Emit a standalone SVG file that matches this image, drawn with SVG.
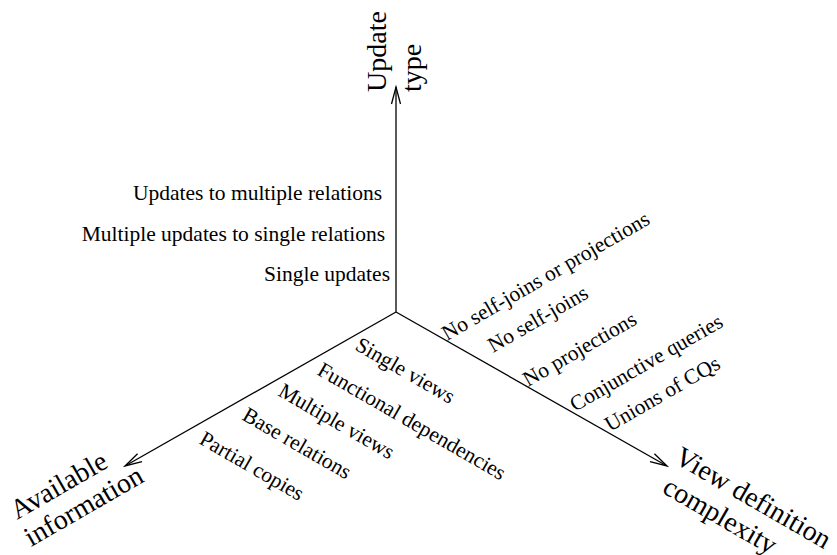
<svg xmlns="http://www.w3.org/2000/svg" width="837" height="555" viewBox="0 0 837 555">
<defs>
<marker id="arr" markerUnits="userSpaceOnUse" markerWidth="40" markerHeight="20" viewBox="-20 -10 40 20" refX="0" refY="0" orient="auto">
<path d="M-17,-4.5 L0,0 L-17,4.5" fill="none" stroke="#000" stroke-width="1.3"/>
</marker>
<style>
.ax{stroke:#000;stroke-width:1.3;fill:none;marker-end:url(#arr)}
.lb{font-family:"Liberation Serif","Times New Roman",serif;font-size:21.5px;fill:#000}
.tt{font-family:"Liberation Serif","Times New Roman",serif;font-size:28px;fill:#000}
</style>
</defs>
<rect width="837" height="555" fill="#fff"/>
<g id="connectors">
<line class="ax" x1="396" y1="312" x2="396" y2="87"/>
<line class="ax" x1="396" y1="312" x2="125" y2="466"/>
<line class="ax" x1="396" y1="312" x2="667" y2="466"/>
</g>
<g id="axis-update-type">
<text class="tt" transform="translate(386,92) rotate(-90)">Update</text>
<text class="tt" transform="translate(421,92) rotate(-90)">type</text>
</g>
<g id="axis-available-information">
<text class="tt" transform="translate(17,520) rotate(-30)">Available</text>
<text class="tt" transform="translate(31,547) rotate(-30)">information</text>
</g>
<g id="axis-view-definition">
<text class="tt" transform="translate(673,462) rotate(30)">View definition</text>
<text class="tt" transform="translate(661,492) rotate(30)">complexity</text>
</g>
<g id="update-labels" class="lb" text-anchor="end">
<text x="382" y="200">Updates to multiple relations</text>
<text x="385" y="241">Multiple updates to single relations</text>
<text x="390" y="281">Single updates</text>
</g>
<g id="view-labels" class="lb">
<text transform="translate(447,341) rotate(-30)">No self-joins or projections</text>
<text transform="translate(493,353) rotate(-30)">No self-joins</text>
<text transform="translate(528,387) rotate(-30)">No projections</text>
<text transform="translate(575,412) rotate(-30)">Conjunctive queries</text>
<text transform="translate(610,432) rotate(-30)">Unions of CQs</text>
</g>
<g id="info-labels" class="lb">
<text transform="translate(354,349) rotate(30)">Single views</text>
<text transform="translate(316,374) rotate(30)">Functional dependencies</text>
<text transform="translate(277,395) rotate(30)">Multiple views</text>
<text transform="translate(241,419) rotate(30)">Base relations</text>
<text transform="translate(198,443) rotate(30)">Partial copies</text>
</g>
</svg>
